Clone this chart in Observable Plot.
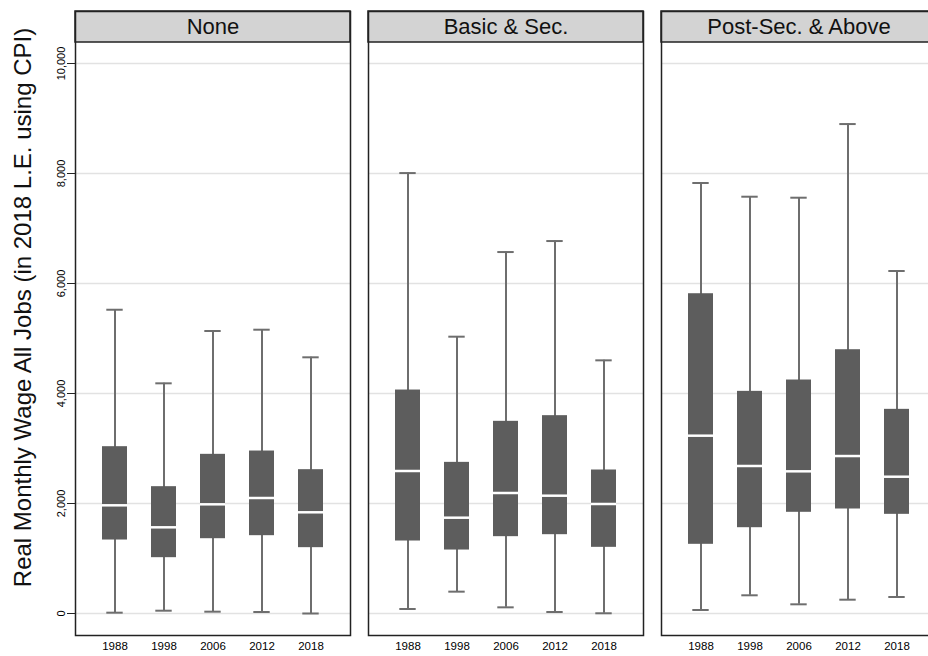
<!DOCTYPE html>
<html>
<head>
<meta charset="utf-8">
<script src="https://cdn.jsdelivr.net/npm/d3@7"></script>
<script src="https://cdn.jsdelivr.net/npm/@observablehq/plot@0.6"></script>
<style>
  html, body { margin: 0; padding: 0; background: #fff; overflow: hidden; }
  #chart svg { display: block; }
</style>
</head>
<body>
<div id="chart"></div>
<script>
// Facets (education level) and years
const panels = ["None", "Basic & Sec.", "Post-Sec. & Above"];
const years = ["1988", "1998", "2006", "2012", "2018"];
const yTicks = [0, 2000, 4000, 6000, 8000, 10000];
const yLabel = "Real Monthly Wage All Jobs (in 2018 L.E. using CPI)";

// Box statistics, ordered panel by panel, year by year (5 per panel)
const lowerWhisker = [15, 51, 33, 27, 0,      82, 397, 112, 27, 4,       64, 331, 167, 251, 300];
const q1           = [1336, 1015, 1360, 1415, 1197,  1318, 1154, 1397, 1433, 1203,  1258, 1560, 1840, 1900, 1803];
const median       = [1967, 1567, 1985, 2100, 1840,  2591, 1742, 2191, 2142, 1991,  3233, 2682, 2585, 2863, 2487];
const q3           = [3033, 2306, 2894, 2954, 2615,  4063, 2748, 3494, 3597, 2609,  5814, 4039, 4245, 4796, 3712];
const upperWhisker = [5523, 4185, 5136, 5160, 4658,  8008, 5033, 6572, 6772, 4603,  7827, 7578, 7560, 8899, 6227];

const data = [];
panels.forEach((p, i) => years.forEach((yr, j) => {
  const k = i * years.length + j;
  data.push({panel: p, year: yr, lo: lowerWhisker[k], q1: q1[k], med: median[k], q3: q3[k], hi: upperWhisker[k]});
}));

const boxFill = "#5d5d5d";
const whisker = "#6e6e6e";

const chart = Plot.plot({
  width: 928,
  height: 656,
  marginLeft: 75,
  marginRight: -8,
  marginTop: 11,
  marginBottom: 21,
  style: {fontFamily: "'Liberation Sans', Arial, Helvetica, sans-serif", background: "#fff", color: "#000"},
  fx: {domain: panels, paddingInner: 18 / 293, paddingOuter: 0, axis: null, label: null},
  x: {domain: years, paddingInner: 0.49, paddingOuter: 0.53, label: null},
  y: {domain: [0, 10000], insetTop: 52, insetBottom: 22, label: null},
  marks: [
    Plot.gridY(yTicks, {stroke: "#e2e2e2", strokeOpacity: 1, strokeWidth: 1.5}),
    Plot.ruleX(data, {fx: "panel", x: "year", y1: "lo", y2: "hi", stroke: whisker, strokeWidth: 2}),
    Plot.tickY(data, {fx: "panel", x: "year", y: "lo", stroke: whisker, strokeWidth: 2, insetLeft: 4.3, insetRight: 4.3}),
    Plot.tickY(data, {fx: "panel", x: "year", y: "hi", stroke: whisker, strokeWidth: 2, insetLeft: 4.3, insetRight: 4.3}),
    Plot.barY(data, {fx: "panel", x: "year", y1: "q1", y2: "q3", fill: boxFill}),
    Plot.tickY(data, {fx: "panel", x: "year", y: "med", stroke: "#fff", strokeWidth: 2.5}),
    Plot.rect(panels, {fx: d => d, fill: "#d3d3d3", stroke: "#222", strokeWidth: 1.5, insetBottom: 593}),
    Plot.text(panels, {fx: d => d, text: d => d, frameAnchor: "top", dy: 15.5, lineAnchor: "middle", fontSize: 22, fill: "#111"}),
    Plot.frame({stroke: "#222", strokeWidth: 1.5}),
    Plot.axisY(yTicks, {tickFormat: d3.format(","), tickSize: 8, tickRotate: -90, fontSize: 11, tickPadding: 3, label: null, stroke: "#222"}),
    Plot.axisX({tickSize: 0, tickPadding: 6, fontSize: 11.5, label: null}),
    Plot.text([yLabel], {fx: () => "None", frameAnchor: "left", textAnchor: "middle", rotate: -90, dx: -52, dy: -16, lineAnchor: "middle", fontSize: 24, fill: "#111"})
  ]
});
document.getElementById("chart").appendChild(chart);
</script>
</body>
</html>
